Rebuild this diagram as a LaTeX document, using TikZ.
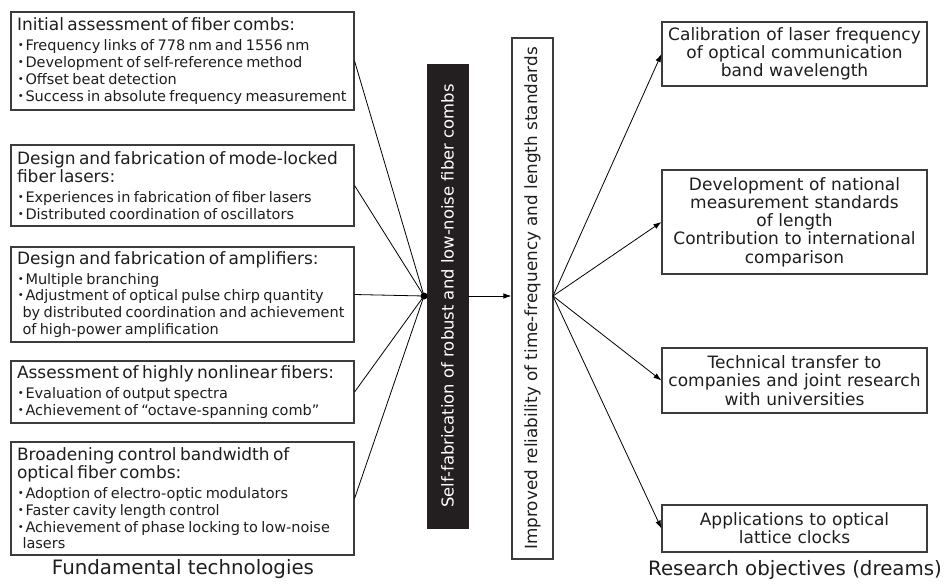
\documentclass[tikz,border=0pt]{standalone}
\usepackage{fontspec}
\setmainfont{DejaVu Sans}
\newfontfamily\cjk{Noto Sans CJK JP}
\usetikzlibrary{arrows.meta}
\definecolor{ink}{HTML}{1E1E1E}
\definecolor{edgec}{HTML}{3C3C3C}
\definecolor{blk}{HTML}{231F20}
\newcommand\hfnt{\fontsize{17}{18}\selectfont}
\newcommand\bfnt{\fontsize{14.5}{16.8}\selectfont}
\newcommand\bul{\hspace*{-3.5pt}{\cjk ・}\hspace{-2.5pt}}
\newcommand\hl[1]{{\hfnt\mbox{#1}\par}}
\newcommand\bl[1]{{\bfnt\mbox{\bul #1}\par}}
\newcommand\cl[1]{{\bfnt\mbox{\hspace*{5.5pt}#1}\par}}
\newcommand\gap{\vspace{3pt}}
\tikzset{
  lbox/.style={draw=edgec, line width=1.1pt, fill=white, text=ink, rectangle,
    inner xsep=6pt, inner ysep=0pt, text width=331pt, align=left,
    minimum width=343pt, font={\parindent=0pt}},
  rbox/.style={draw=edgec, line width=1.1pt, fill=white, text=ink, rectangle,
    inner sep=0pt, text width=255pt, align=center, minimum width=265pt,
    font=\fontsize{17}{18.3}\selectfont},
  conn/.style={draw=black, line width=0.8pt},
  arr/.style={conn, -{Latex[length=8pt,width=5.5pt]}},
  caplabel/.style={text=ink, font=\fontsize{19.8}{22}\selectfont, inner sep=0pt}
}
\begin{document}
\begin{tikzpicture}[x=1pt,y=-1pt]
\useasboundingbox (0,0) rectangle (944,583);

% left boxes
\node[lbox, minimum height=98pt] (b1) at (182.5,61) {%
\hl{Initial assessment of fiber combs:}\gap
\bl{Frequency links of 778 nm and 1556 nm}
\bl{Development of self-reference method}
\bl{Offset beat detection}
\bl{Success in absolute frequency measurement}};

\node[lbox, minimum height=81pt] (b2) at (182.5,185.5) {%
\hl{Design and fabrication of mode-locked}
\hl{fiber lasers:}\gap
\bl{Experiences in fabrication of fiber lasers}
\bl{Distributed coordination of oscillators}};

\node[lbox, minimum height=95pt] (b3) at (182.5,294.5) {%
\hl{Design and fabrication of amplifiers:}\gap
\bl{Multiple branching}
\bl{Adjustment of optical pulse chirp quantity}
\cl{by distributed coordination and achievement}
\cl{of high-power amplification}};

\node[lbox, minimum height=62pt] (b4) at (182.5,392) {%
\hl{Assessment of highly nonlinear fibers:}\gap
\bl{Evaluation of output spectra}
\bl{Achievement of “octave-spanning comb”}};

\node[lbox, minimum height=113pt] (b5) at (182.5,498.5) {%
\hl{Broadening control bandwidth of}
\hl{optical fiber combs:}\gap
\bl{Adoption of electro-optic modulators}
\bl{Faster cavity length control}
\bl{Achievement of phase locking to low-noise}
\cl{lasers}};

\node[caplabel] (lcap) at (183,569) {Fundamental technologies};

% central boxes
\node[rectangle, fill=blk, draw=blk, rotate=90, minimum width=464pt, minimum height=41pt,
  inner sep=0pt, text=white, font=\fontsize{16.4}{18}\selectfont] (blk) at (447.5,296)
  {Self-fabrication of robust and low-noise fiber combs};
\node[rectangle, fill=white, draw=edgec, line width=1.1pt, rotate=90, minimum width=521pt,
  minimum height=41pt, inner sep=0pt, text=ink, font=\fontsize{16.8}{18}\selectfont] (imp)
  at (532.5,298.5) {Improved reliability of time-frequency and length standards};

\node[circle, fill=black, inner sep=0pt, minimum size=7pt] (dot) at (424,296) {};
\coordinate (fan) at (553,296);

% right boxes
\node[rbox, minimum height=64pt] (r1) at (794.5,54) {Calibration of laser frequency\\of optical communication\\band wavelength};
\node[rbox, minimum height=104pt] (r2) at (794.5,222) {Development of national\\measurement standards\\of length\\Contribution to international\\comparison};
\node[rbox, minimum height=65pt] (r3) at (794.5,380.5) {Technical transfer to\\companies and joint research\\with universities};
\node[rbox, minimum height=47pt] (r4) at (794.5,528.5) {Applications to optical\\lattice clocks};

\node[caplabel] (rcap) at (795,570) {Research objectives (dreams)};

% connectors
\foreach \b in {b1,b2,b3,b4,b5}
  \draw[conn] (\b.east) -- (dot.center);
\draw[arr] (blk.south) -- (blk.south -| imp.north);
\foreach \r in {r1,r2,r3,r4}
  \draw[arr] (fan) -- (\r.west);
\end{tikzpicture}
\end{document}
